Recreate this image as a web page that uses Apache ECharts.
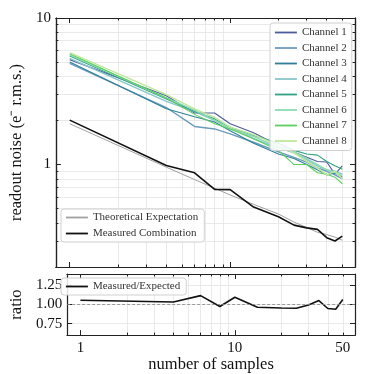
<!DOCTYPE html>
<html><head><meta charset="utf-8">
<script src="https://cdn.jsdelivr.net/npm/echarts@6/dist/echarts.min.js"></script>
<style>html,body{margin:0;padding:0;background:#fff}#c{width:374px;height:374px}</style>
</head><body><div id="c"></div>
<script>
const samples = [1, 4, 6, 8, 10, 14, 20, 25, 30, 35, 40, 45, 50];
const channel1 = [5.2, 2.95, 2.25, 2.25, 1.9, 1.65, 1.35, 1.22, 1.12, 1.05, 1.04, 0.86, 0.98];
const channel2 = [4.9, 2.45, 1.82, 1.75, 1.62, 1.42, 1.22, 1.12, 1.04, 0.95, 0.9, 0.85, 0.8];
const channel3 = [5.0, 2.4, 2.12, 1.95, 1.7, 1.4, 1.18, 1.1, 1.0, 0.92, 0.85, 0.88, 0.82];
const channel4 = [5.3, 2.7, 2.3, 2.0, 1.8, 1.5, 1.3, 1.2, 1.08, 0.98, 0.92, 0.9, 0.86];
const channel5 = [5.5, 2.8, 2.3, 2.05, 1.8, 1.58, 1.4, 1.25, 1.18, 1.16, 1.05, 0.98, 0.93];
const channel6 = [5.6, 2.85, 2.35, 2.0, 1.75, 1.55, 1.32, 1.22, 1.1, 1.0, 0.92, 0.88, 0.84];
const channel7 = [5.7, 2.85, 2.2, 1.9, 1.75, 1.5, 1.25, 1.0, 1.0, 0.88, 0.86, 0.82, 0.74];
const channel8 = [5.8, 3.0, 2.4, 2.1, 1.8, 1.6, 1.35, 1.2, 1.05, 0.95, 0.85, 0.9, 0.8];
const theoretical = [1.90, 0.96, 0.79, 0.69, 0.62, 0.535, 0.46, 0.405, 0.372, 0.345, 0.333, 0.32, 0.305];
const measured = [2.01, 0.984, 0.878, 0.676, 0.674, 0.513, 0.44, 0.386, 0.37, 0.361, 0.317, 0.301, 0.325];
const ratio = [1.056, 1.034, 1.117, 0.974, 1.095, 0.965, 0.955, 0.952, 0.995, 1.052, 0.948, 0.939, 1.065];

const channelNames = ['Channel 1','Channel 2','Channel 3','Channel 4','Channel 5','Channel 6','Channel 7','Channel 8'];
const channelColors = ['#4c5c99','#6b9bbd','#2f8199','#86c7c9','#32a184','#8bdcb3','#5dcf5f','#c0e89b'];
const channels = [channel1, channel2, channel3, channel4, channel5, channel6, channel7, channel8];

const xMinorTicks = [2,3,4,5,6,7,8,9,20,30,40,50];
const xMajorTicks = [1,10];
const xLabels = [1,10,50];
const yTopMinorTicks = [0.2,0.3,0.4,0.5,0.6,0.7,0.8,0.9,2,3,4,5,6,7,8,9];
const yTopMajorTicks = [1,10];
const yTopLabels = [1,10];
const yBotTicks = [0.75,1.0,1.25];

const FONT = 'Liberation Serif';
const pairs = arr => samples.map((x,i)=>[x, arr[i]]);
const gridColor = '#e4e4e4';
const AX = '#222';

function xAx(grid, pos, ticks, len, opts) {
  opts = opts || {};
  return {
    type:'log', logBase:10, gridIndex:grid, position:pos, min:0.82, max:60,
    axisLine:{show:true, onZero:false, lineStyle:{color:AX, width:1.2}},
    axisTick:{show:true, inside:true, length:len, customValues:ticks, lineStyle:{color:AX}},
    splitLine:{show:!!opts.grid, lineStyle:{color:gridColor, width:0.8}},
    axisLabel:{show:!!opts.labels, customValues:xLabels, formatter:v=>String(v), color:'#111', fontFamily:FONT, fontSize:15, margin:5},
    name: opts.name||'', nameLocation:'middle', nameGap:19,
    nameTextStyle:{fontFamily:FONT, fontSize:16.5, color:'#111'}
  };
}
function yLog(pos, ticks, len, opts) {
  opts = opts || {};
  return {type:'log', logBase:10, gridIndex:0, position:pos, min:0.2, max:10,
     axisLine:{show:true, onZero:false, lineStyle:{color:AX, width:1.2}},
     axisTick:{show:true, inside:true, length:len, customValues:ticks, lineStyle:{color:AX}},
     splitLine:{show:!!opts.grid, lineStyle:{color:gridColor, width:0.8}},
     axisLabel:{show:!!opts.labels, customValues:yTopLabels, formatter:v=>String(v), color:'#111', fontFamily:FONT, fontSize:15, margin:5},
     name:opts.name||'', nameLocation:'middle', nameGap:29,
     nameTextStyle:{fontFamily:FONT, fontSize:16.5, color:'#111'}};
}
function yRat(pos, opts) {
  opts = opts || {};
  return {type:'value', gridIndex:1, position:pos, min:0.6, max:1.4,
     axisLine:{show:true, onZero:false, lineStyle:{color:AX, width:1.2}},
     axisTick:{show:true, inside:true, length:5, customValues:yBotTicks, lineStyle:{color:AX}},
     splitLine:{show:!!opts.grid, lineStyle:{color:gridColor, width:0.8}},
     axisLabel:{show:!!opts.labels, customValues:yBotTicks, formatter:v=>v.toFixed(2), color:'#111', fontFamily:FONT, fontSize:15, margin:5},
     name:opts.name||'', nameLocation:'middle', nameGap:38,
     nameTextStyle:{fontFamily:FONT, fontSize:16.5, color:'#111'}};
}
const legendCommon = {orient:'vertical', itemWidth:22, itemHeight:10,
  backgroundColor:'rgba(255,255,255,0.85)', borderColor:'#d0d0d0', borderWidth:1, borderRadius:3,
  itemStyle:{opacity:0}, lineStyle:{width:1.8}, textStyle:{fontFamily:FONT, fontSize:11, color:'#333'}};

const option = {
  animation:false,
  grid:[
    {left:45, top:18, width:310, height:249},
    {left:45, top:274, width:310, height:62}
  ],
  xAxis:[
    xAx(0,'bottom',xMinorTicks,2.5,{grid:true}), xAx(0,'bottom',xMajorTicks,5),
    xAx(0,'top',xMinorTicks,2.5), xAx(0,'top',xMajorTicks,5),
    xAx(1,'bottom',xMinorTicks,2.5,{grid:true}), xAx(1,'bottom',xMajorTicks,5,{labels:true, name:'number of samples'}),
    xAx(1,'top',xMinorTicks,2.5), xAx(1,'top',xMajorTicks,5)
  ],
  yAxis:[
    yLog('left', yTopMinorTicks, 2.5, {grid:true}),
    yLog('left', yTopMajorTicks, 5, {labels:true, name:'readout noise (e⁻ r.m.s.)'}),
    yLog('right', yTopMinorTicks, 2.5),
    yLog('right', yTopMajorTicks, 5),
    yRat('left', {grid:true, labels:true, name:'ratio'}),
    yRat('right')
  ],
  legend:[
    Object.assign({}, legendCommon, {data:channelNames, left:270, top:23, itemGap:4.5, padding:[4,5,4,4]}),
    Object.assign({}, legendCommon, {data:['Theoretical Expectation','Measured Combination'], left:61, top:209, itemGap:5, padding:[3,6,3,4]}),
    Object.assign({}, legendCommon, {data:['Measured/Expected'], left:61, top:278, padding:[3,6,3,4]})
  ],
  series:[
    ...channels.map((arr,i)=>({
      name:channelNames[i], type:'line', xAxisIndex:0, yAxisIndex:0, data:pairs(arr),
      symbol:'none', color:channelColors[i], lineStyle:{width: i%2 ? 1.4 : 1.1, color:channelColors[i]}, z:3
    })),
    {name:'Theoretical Expectation', type:'line', xAxisIndex:0, yAxisIndex:0, data:pairs(theoretical),
     symbol:'none', color:'#a0a0a0', lineStyle:{width:1, color:'#a0a0a0'}, z:3},
    {name:'Measured Combination', type:'line', xAxisIndex:0, yAxisIndex:0, data:pairs(measured),
     symbol:'none', color:'#111', lineStyle:{width:1.6, color:'#111'}, z:4},
    {name:'Measured/Expected', type:'line', xAxisIndex:4, yAxisIndex:4, data:pairs(ratio),
     symbol:'none', color:'#111', lineStyle:{width:1.6, color:'#111'}, z:4,
     markLine:{silent:true, symbol:'none', label:{show:false}, lineStyle:{color:'#888', type:[3,2], width:0.8},
       data:[{yAxis:1}]}}
  ]
};
const chart = echarts.init(document.getElementById('c'), null, {renderer:'canvas'});
chart.setOption(option);
</script></body></html>
